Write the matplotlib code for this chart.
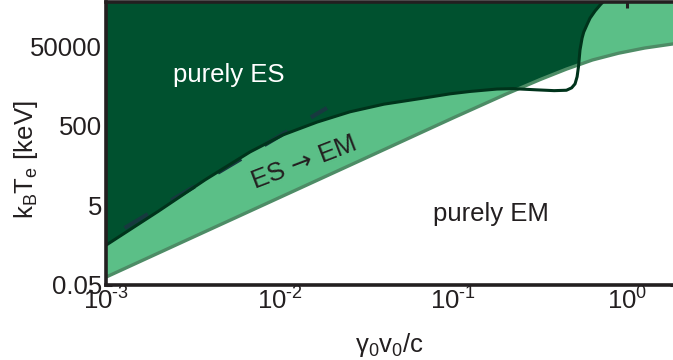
import numpy as np
import matplotlib
matplotlib.use("Agg")
import matplotlib.pyplot as plt
from matplotlib.ticker import FixedLocator, NullFormatter

plt.rcParams['font.family'] = ['Liberation Sans', 'DejaVu Sans']
plt.rcParams['mathtext.fontset'] = 'custom'
plt.rcParams['mathtext.rm'] = 'Liberation Sans'
plt.rcParams['mathtext.it'] = 'Liberation Sans'
plt.rcParams['mathtext.sf'] = 'DejaVu Sans'
plt.rcParams['mathtext.default'] = 'regular'

# ---- data ----
# boundary between "ES -> EM" and "purely EM"
em_x = [0.001, 0.00316, 0.01, 0.0316, 0.1, 0.2, 0.316, 0.447, 0.631, 0.891, 1.26, 1.95]
em_y = [0.079, 0.79, 7.9, 79, 794, 3090, 7240, 13200, 22400, 33100, 44700, 58900]

# boundary of the "purely ES" region
es_x = [0.001, 0.002, 0.00372, 0.00675, 0.01045, 0.0164, 0.0254, 0.0398, 0.0643,
        0.0955, 0.1247, 0.178, 0.220, 0.302, 0.380, 0.447, 0.479, 0.501, 0.515,
        0.525, 0.535, 0.550, 0.562, 0.589, 0.611, 0.653, 0.698, 0.741]
es_y = [0.50, 3.55, 21.9, 110, 295, 617, 1120, 1740, 2400,
        3160, 3630, 4170, 4270, 3980, 3800, 3890, 4470, 5620, 8510,
        15800, 39800, 79400, 112000, 178000, 251000, 380000, 537000, 708000]

# dashed reference line
dash_x = [0.00128, 0.0187]
dash_y = [1.35, 1400]

xlim = (0.001, 1.91)
ylim = (0.05, 6.4e5)

xticks = [1e-3, 1e-2, 1e-1, 1e0]
xticklabels = [r'$10^{\text{-3}}$', r'$10^{\text{-2}}$', r'$10^{\text{-1}}$', r'$10^{0}$']
xminor = [5e-3, 5e-2, 5e-1]
yticks = [0.05, 5, 500, 50000]
yticklabels = ['0.05', '5', '500', '50000']

# ---- colours ----
c_dark = '#00512f'
c_light = '#5bbf87'
c_emline = '#4d8c66'
c_esline = '#00331b'
c_dash = '#17393f'
c_text = '#231f20'

W, H = 673, 360
fig = plt.figure(figsize=(W / 100, H / 100), dpi=100)
ax = fig.add_axes([106 / W, 1 - 285 / H, 570 / W, 283 / H])
ax.set_xscale('log')
ax.set_yscale('log')
ax.set_xlim(*xlim)
ax.set_ylim(*ylim)

top = 1e7
bot = 1e-3
ax.fill_between(em_x, em_y, top, color=c_light, lw=0, zorder=1)
ax.fill_between(es_x, es_y, top, color=c_dark, lw=0, zorder=2)
ax.fill_between(em_x, bot, em_y, color='white', lw=0, zorder=3)
ax.plot(em_x, em_y, color=c_emline, lw=2.4, zorder=4, solid_capstyle='butt')
ax.plot(dash_x, dash_y, color=c_dash, lw=3.0, dashes=(6.5, 6.5), zorder=5)
ax.plot(es_x, es_y, color=c_esline, lw=2.2, zorder=6, solid_joinstyle='round')

fs = 18.5
ax.text(0.216, 0.742, 'purely ES', transform=ax.transAxes, color='white',
        fontsize=fs, ha='center', va='center', zorder=10)
ax.text(0.675, 0.251, 'purely EM', transform=ax.transAxes, color=c_text,
        fontsize=fs, ha='center', va='center', zorder=10)
ax.text(0.347, 0.433, r'$\mathrm{ES}$ → $\mathrm{EM}$', transform=ax.transAxes,
        color=c_text, family='DejaVu Sans',
        fontsize=fs, ha='center', va='center', rotation=21,
        rotation_mode='anchor', zorder=10)

ax.xaxis.set_major_locator(FixedLocator(xticks))
ax.set_xticklabels(xticklabels)
ax.xaxis.set_minor_locator(FixedLocator(xminor))
ax.xaxis.set_minor_formatter(NullFormatter())
ax.yaxis.set_major_locator(FixedLocator(yticks))
ax.set_yticklabels(yticklabels)
ax.yaxis.set_minor_locator(FixedLocator([]))

ax.tick_params(which='major', direction='in', length=4.5, width=2.2,
               color=c_text, labelsize=fs, labelcolor=c_text,
               top=True, right=True)
ax.tick_params(axis='x', which='major', pad=2)
ax.tick_params(axis='y', which='major', pad=3)
ax.tick_params(which='minor', direction='in', length=3.5, width=0.8,
               color='#c8c8c8', top=True, bottom=True)

for s in ax.spines.values():
    s.set_linewidth(2.6)
    s.set_color(c_text)
    s.set_zorder(20)

ax.set_xlabel(r'$\mathregular{\gamma_0v_0/c}$', fontsize=fs, color=c_text)
ax.xaxis.set_label_coords(0.498, -0.163)
ax.set_ylabel(r'$\mathregular{k_BT_e}$ [keV]', fontsize=fs, color=c_text)
ax.yaxis.set_label_coords(-0.116, 0.442)

fig.savefig('out.png', dpi=100)
